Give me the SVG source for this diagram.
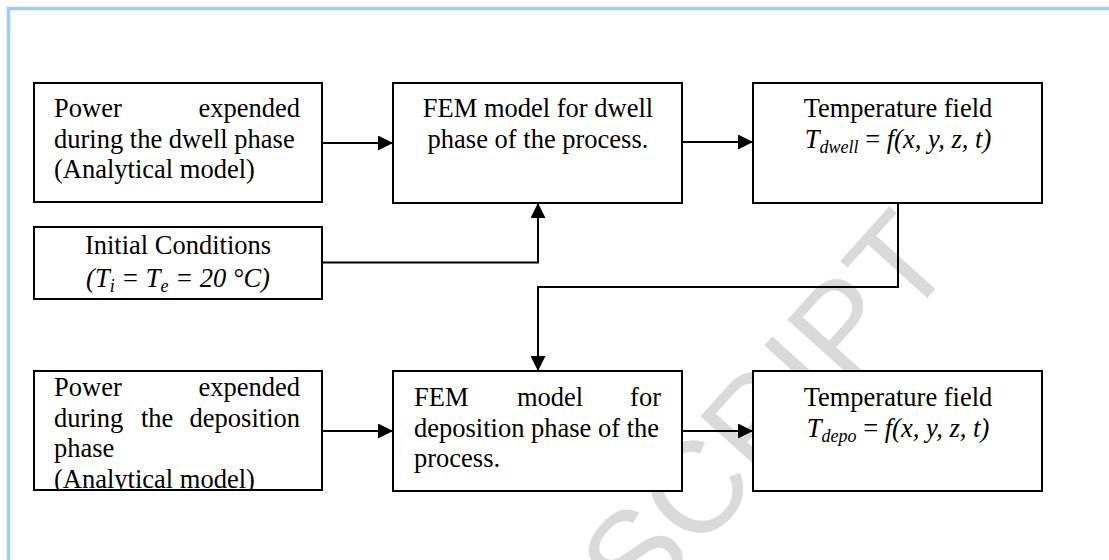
<svg xmlns="http://www.w3.org/2000/svg" width="1109" height="560" viewBox="0 0 1109 560">
<defs>
<style>
.box{fill:#ffffff;stroke:#000000;stroke-width:2}
.t{font-family:"Liberation Serif","Times New Roman",serif;font-size:26.5px;fill:#000000}
.c{text-anchor:middle}
.e{text-anchor:end}
.i{font-style:italic}
.sub{font-size:18px}
.conn{fill:none;stroke:#000000;stroke-width:2}
.wm{font-family:"Liberation Sans",Arial,sans-serif;font-size:130px;fill:#dadada}
</style>
<marker id="arr" markerUnits="userSpaceOnUse" markerWidth="15" markerHeight="15" refX="15" refY="7.5" orient="auto">
<path d="M0,0 L15,7.5 L0,15 z" fill="#000000"/>
</marker>
<clipPath id="clip3"><rect x="34" y="371" width="288" height="118"/></clipPath>
</defs>
<rect x="0" y="0" width="1109" height="560" fill="#ffffff"/>
<g id="watermark">
<text class="wm" transform="translate(958,264) rotate(-48)" text-anchor="end">ACCEPTED MANUSCRIPT</text>
</g>
<g id="border" fill="none" stroke="#a0cbf8" stroke-width="3.5">
<path d="M8.5,560 L8.5,8.5 L1109,8.5"/>
</g>
<g id="connectors">
<path class="conn" d="M322,143 L393,143" marker-end="url(#arr)"/>
<path class="conn" d="M682,142 L753,142" marker-end="url(#arr)"/>
<path class="conn" d="M322,262.5 L538,262.5 L538,203" marker-end="url(#arr)"/>
<path class="conn" d="M898,203 L898,287 L538,287 L538,371" marker-end="url(#arr)"/>
<path class="conn" d="M322,431 L393,431" marker-end="url(#arr)"/>
<path class="conn" d="M682,431 L753,431" marker-end="url(#arr)"/>
</g>
<g id="power-dwell">
<rect class="box" x="34" y="83" width="288" height="119"/>
<text class="t" x="54" y="117">Power</text>
<text class="t e" x="300" y="117">expended</text>
<text class="t" x="54" y="147.5">during the dwell phase</text>
<text class="t" x="54" y="178">(Analytical model)</text>
</g>
<g id="initial-conditions">
<rect class="box" x="34" y="227" width="288" height="72"/>
<text class="t c" x="178" y="254">Initial Conditions</text>
<text class="t c i" x="178" y="286.5">(T<tspan class="sub" dy="5">i</tspan><tspan dy="-5"> = T</tspan><tspan class="sub" dy="5">e</tspan><tspan dy="-5"> = 20 °C)</tspan></text>
</g>
<g id="power-deposition">
<rect class="box" x="34" y="371" width="288" height="119"/>
<g clip-path="url(#clip3)">
<text class="t" x="54" y="396">Power</text>
<text class="t e" x="300" y="396">expended</text>
<text class="t" x="54" y="426.5">during</text>
<text class="t" x="141" y="426.5">the</text>
<text class="t e" x="300" y="426.5">deposition</text>
<text class="t" x="54" y="457">phase</text>
<text class="t" x="54" y="487.5">(Analytical model)</text>
</g>
</g>
<g id="fem-dwell">
<rect class="box" x="393" y="83" width="289" height="120"/>
<text class="t c" x="538" y="117">FEM model for dwell</text>
<text class="t c" x="538" y="148">phase of the process.</text>
</g>
<g id="temp-dwell">
<rect class="box" x="753" y="83" width="289" height="120"/>
<text class="t c" x="898" y="117">Temperature field</text>
<text class="t c" x="898" y="148"><tspan class="i">T</tspan><tspan class="i sub" dy="5">dwell</tspan><tspan dy="-5"> = </tspan><tspan class="i">f(x, y, z, t)</tspan></text>
</g>
<g id="fem-deposition">
<rect class="box" x="393" y="371" width="289" height="120"/>
<text class="t" x="414" y="406">FEM</text>
<text class="t" x="517" y="406">model</text>
<text class="t e" x="661" y="406">for</text>
<text class="t" x="414" y="436.5">deposition phase of the</text>
<text class="t" x="414" y="467">process.</text>
</g>
<g id="temp-deposition">
<rect class="box" x="753" y="371" width="289" height="120"/>
<text class="t c" x="898" y="406">Temperature field</text>
<text class="t c" x="898" y="437"><tspan class="i">T</tspan><tspan class="i sub" dy="5">depo</tspan><tspan dy="-5"> = </tspan><tspan class="i">f(x, y, z, t)</tspan></text>
</g>
</svg>
